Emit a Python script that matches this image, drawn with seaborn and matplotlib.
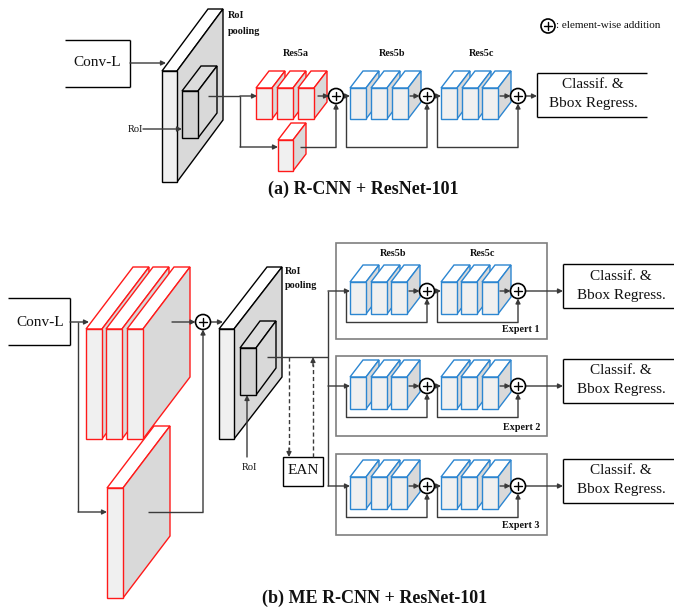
import matplotlib
matplotlib.use("Agg")
import matplotlib.pyplot as plt
from matplotlib.patches import Polygon, Circle, Rectangle
import seaborn as sns

# text content of the diagram
titles = ["(a) R-CNN + ResNet-101", "(b) ME R-CNN + ResNet-101"]
stage_names = ["Res5a", "Res5b", "Res5c"]
expert_names = ["Expert 1", "Expert 2", "Expert 3"]
head_lines = ["Classif. &", "Bbox Regress."]
input_name = "Conv-L"
pool_lines = ["RoI", "pooling"]
roi_name = "RoI"
gate_name = "EAN"
legend_text = ": element-wise addition"
blocks_per_stage = [3, 3, 3]

sns.set_theme(style="white")
plt.rcParams["font.family"] = ["Liberation Serif", "DejaVu Serif"]

RED = "#ff1a1a"
BLUE = "#2c86d1"
GRAY_BOX = "#7f7f7f"
ARROW = "#3a3a3a"
FRONT = "#f0f0f0"
SIDE = "#d9d9d9"

fig = plt.figure(figsize=(6.74, 6.13), dpi=100)
ax = fig.add_axes([0, 0, 1, 1])
ax.set_xlim(0, 674)
ax.set_ylim(613, 0)
ax.axis("off")


def cuboid(x0, y0, w, h, dx, dy, edge, front=FRONT, side=SIDE, top="white", lw=1.0):
    ax.add_patch(Polygon([(x0, y0), (x0 + w, y0), (x0 + w + dx, y0 + dy), (x0 + dx, y0 + dy)],
                         closed=True, fc=top, ec=edge, lw=lw, joinstyle="miter"))
    ax.add_patch(Polygon([(x0 + w, y0), (x0 + w + dx, y0 + dy), (x0 + w + dx, y0 + h + dy), (x0 + w, y0 + h)],
                         closed=True, fc=side, ec=edge, lw=lw, joinstyle="miter"))
    ax.add_patch(Rectangle((x0, y0), w, h, fc=front, ec=edge, lw=lw))


def arrow(x1, y1, x2, y2, color=ARROW, ls="-"):
    ax.annotate("", xy=(x2, y2), xytext=(x1, y1),
                arrowprops=dict(arrowstyle="-|>", color=color, lw=1.0, ls=ls,
                                mutation_scale=7, shrinkA=0, shrinkB=0))


def line(xs, ys, color=ARROW, lw=1.0, ls="-"):
    ax.plot(xs, ys, color=color, lw=lw, ls=ls, solid_capstyle="butt")


def plus(cx, cy, r=7.5):
    ax.add_patch(Circle((cx, cy), r, fc="white", ec="black", lw=1.2, zorder=5))
    s = r * 0.55
    ax.plot([cx - s, cx + s], [cy, cy], color="black", lw=1.0, zorder=6)
    ax.plot([cx, cx], [cy - s, cy + s], color="black", lw=1.0, zorder=6)


def open_box(x0, x1, y0, y1, side):
    # box with one edge missing (cut off in the source figure)
    line([x0, x1], [y0, y0], color="black")
    line([x0, x1], [y1, y1], color="black")
    line([side, side], [y0, y1], color="black")


def label(x, y, s, size=7.3, bold=True, ha="center"):
    ax.text(x, y, s, ha=ha, va="center", fontsize=size,
            fontweight="bold" if bold else "normal", color="#111111")


def res_stage(xs, y, color, w=16, h=31, dx=13, dy=-17):
    for x in xs[:blocks_per_stage[0]]:
        cuboid(x, y, w, h, dx, dy, color)


# ---------------- (a) ----------------
ra = 96
open_box(65, 130, 40, 87, 130)
label(97, 63, input_name, size=11, bold=False)
arrow(130, 63, 166, 63)

cuboid(162, 71, 15, 111, 46, -62, "black")
cuboid(182, 91, 16, 47, 19, -25, "black", front="#d2d2d2", side="#d9d9d9", top="#dcdcdc")
label(228, 15, pool_lines[0], ha="left")
label(228, 31, pool_lines[1], ha="left")
label(135, 130, roi_name, size=7.5, bold=False)
arrow(143, 129, 182, 129)

line([208, 240], [ra, ra])
arrow(240, ra, 257, ra)
line([240, 240], [ra, 147])
arrow(240, 147, 278, 147)

res_stage([256, 277, 298], ra - 8, RED)
cuboid(278, 140, 15, 31, 13, -17, RED)
arrow(318, ra, 329, ra)
line([300, 336], [147, 147])
arrow(336, 147, 336, ra + 7.5)
plus(336, ra)

arrow(344, ra, 350, ra)
line([346, 346, 427], [ra, 147, 147])
arrow(427, 147, 427, ra + 7.5)
res_stage([350, 371, 392], ra - 8, BLUE)
arrow(410, ra, 419.5, ra)
plus(427, ra)

arrow(435, ra, 441, ra)
line([437, 437, 518], [ra, 147, 147])
arrow(518, 147, 518, ra + 7.5)
res_stage([441, 462, 482], ra - 8, BLUE)
arrow(500, ra, 510.5, ra)
plus(518, ra)

arrow(526, ra, 537, ra)
open_box(537, 647, 73, 117, 537)
label(593, 85, head_lines[0], size=11, bold=False)
label(593, 104, head_lines[1], size=11, bold=False)

label(296, 53, stage_names[0])
label(392, 53, stage_names[1])
label(482, 53, stage_names[2])

plus(548, 26, r=7)
label(556, 26, legend_text, size=8, bold=False, ha="left")
label(363, 189, titles[0], size=13)

# ---------------- (b) ----------------
open_box(8, 70, 298, 345, 70)
label(40, 322, input_name, size=11, bold=False)
arrow(70, 322, 89, 322)
line([78, 78], [322, 512])
arrow(78, 512, 107, 512)

for x in [86, 106, 127]:
    cuboid(x, 329, 16, 110, 47, -62, RED)
cuboid(107, 488, 16, 110, 47, -62, RED)
arrow(172, 322, 195.5, 322)
line([148, 203], [512, 512])
arrow(203, 512, 203, 329.5)
plus(203, 322)
arrow(211, 322, 223, 322)

cuboid(219, 329, 15, 110, 48, -62, "black")
cuboid(240, 348, 16, 47, 20, -27, "black", front="#d2d2d2", side="#d9d9d9", top="#dcdcdc")
label(285, 272, pool_lines[0], ha="left")
label(285, 286, pool_lines[1], ha="left")
arrow(247, 457, 247, 395)
label(249, 468, roi_name, size=7.5, bold=False)

line([267, 328], [357, 357])
line([289, 289], [357, 450], ls=(0, (3, 2)))
arrow(289, 448, 289, 457)
line([313, 313], [457, 364], ls=(0, (3, 2)))
arrow(313, 366, 313, 357)
ax.add_patch(Rectangle((283, 457), 40, 29, fc="white", ec="black", lw=1.0))
label(303, 471, gate_name, size=11, bold=False)

rows = [291, 386, 486]
expert_boxes = [(243, 339), (356, 436), (454, 535)]
line([328, 328], [rows[0], rows[-1]])
for k, r in enumerate(rows):
    y0, y1 = expert_boxes[k]
    ax.add_patch(Rectangle((336, y0), 211, y1 - y0, fc="none", ec=GRAY_BOX, lw=1.2))
    label(540, y1 - 9, expert_names[k], ha="right")
    arrow(328, r, 350, r)
    res_stage([350, 371, 391], r - 9, BLUE, h=32)
    arrow(409, r, 419.5, r)
    line([346, 346, 427], [r, r + 31, r + 31])
    arrow(427, r + 31, 427, r + 7.5)
    plus(427, r)
    arrow(435, r, 441, r)
    res_stage([441, 461, 482], r - 9, BLUE, h=32)
    arrow(500, r, 510.5, r)
    line([437, 437, 518], [r, r + 31, r + 31])
    arrow(518, r + 31, 518, r + 7.5)
    plus(518, r)
    arrow(526, r, 563, r)
    open_box(563, 690, r - 27, r + 17, 563)
    label(621, r - 15, head_lines[0], size=11, bold=False)
    label(621, r + 4, head_lines[1], size=11, bold=False)

label(393, 254, stage_names[1])
label(483, 254, stage_names[2])
label(375, 598, titles[1], size=13)

fig.savefig("out.png", dpi=100, facecolor="white")
